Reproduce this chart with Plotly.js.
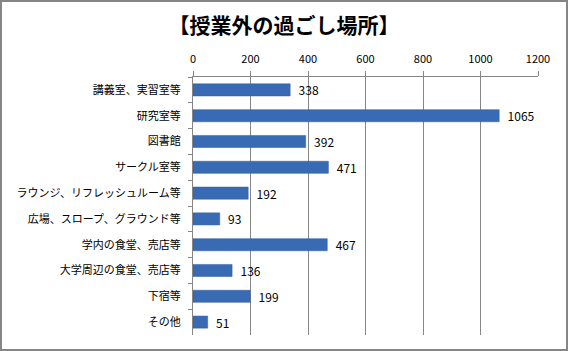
<!DOCTYPE html>
<html><head><meta charset="utf-8">
<script src="https://cdn.plot.ly/plotly-3.0.1.min.js"></script>
<style>html,body{margin:0;padding:0;background:#fff;}#wrap{position:relative;width:568px;height:351px;}#frame{position:absolute;left:0;top:0;width:568px;height:351px;box-sizing:border-box;border:2px solid #868686;pointer-events:none;}</style>
</head><body>
<div id="wrap"><div id="chart" style="width:568px;height:351px;"></div><div id="frame"></div></div>
<script>
const categories = ["講義室、実習室等","研究室等","図書館","サークル室等","ラウンジ、リフレッシュルーム等","広場、スロープ、グラウンド等","学内の食堂、売店等","大学周辺の食堂、売店等","下宿等","その他"];
const values = [338,1065,392,471,192,93,467,136,199,51];
const xTicks = [0,200,400,600,800,1000,1200];
const titleText = "【授業外の過ごし場所】";

const font = '"Noto Sans CJK JP","Noto Sans",sans-serif';
Plotly.newPlot('chart', [{
  type:'bar', orientation:'h', y:categories, x:values,
  marker:{color:'#386bb3', line:{color:'#2f5d9e', width:0.5}},
  text: values.map(v => '\u00a0\u00a0' + v), textposition:'outside', constraintext:'none',
  textfont:{family:font, size:12, color:'#000'}, cliponaxis:false,
  hoverinfo:'none'
}], {
  width:568, height:351,
  margin:{l:193, r:30, t:77, b:16, pad:0},
  paper_bgcolor:'#fff', plot_bgcolor:'#fff',
  bargap:0.53,
  title:{text:titleText, font:{family:font, size:21, color:'#000', weight:'bold'}, x:0.5, xanchor:'center', y:1-26/351, yanchor:'middle'},
  xaxis:{side:'top', range:[0,1200], tickvals:xTicks, ticktext:xTicks.map(String),
    showgrid:true, gridcolor:'#868686', gridwidth:1, showline:true, linecolor:'#868686', linewidth:1,
    ticks:'outside', ticklen:5, tickcolor:'#868686', zeroline:false, ticklabelstandoff:4,
    tickfont:{family:font, size:11, color:'#000'}},
  yaxis:{type:'category', autorange:'reversed', showline:true, linecolor:'#868686', linewidth:1,
    ticks:'outside', ticklen:4, tickcolor:'#868686', tickson:'boundaries', showgrid:false,
    ticklabelstandoff:9,
    tickfont:{family:font, size:11, color:'#000'}},
  showlegend:false, font:{family:font}
}, {staticPlot:true, displayModeBar:false});
</script>
</body></html>
